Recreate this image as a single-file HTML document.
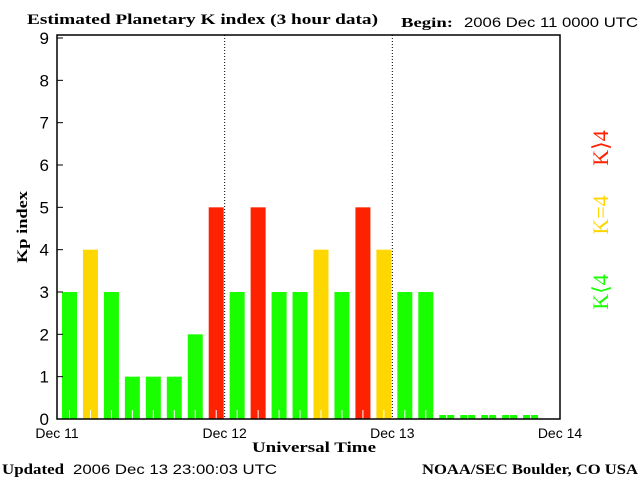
<!DOCTYPE html>
<html><head><meta charset="utf-8"><style>
body{margin:0;background:#fff}
svg text{font-family:"Liberation Serif",serif}
.s{font-family:"Liberation Sans",sans-serif}
</style></head><body>
<svg width="640" height="480" viewBox="0 0 640 480">
<text x="27" y="24" font-size="15" font-weight="bold" textLength="351" lengthAdjust="spacingAndGlyphs">Estimated Planetary K index (3 hour data)</text>
<text x="401" y="27" font-size="14" font-weight="bold" textLength="52" lengthAdjust="spacingAndGlyphs">Begin:</text>
<text x="464" y="27" font-size="14" class="s" textLength="174" lengthAdjust="spacingAndGlyphs">2006 Dec 11 0000 UTC</text>
<g id="plot"></g>
<text transform="translate(27,227) rotate(-90)" text-anchor="middle" font-size="15" font-weight="bold" textLength="72" lengthAdjust="spacingAndGlyphs">Kp index</text>
<text x="252" y="452" font-size="15" font-weight="bold" textLength="124" lengthAdjust="spacingAndGlyphs">Universal Time</text>
<text x="2" y="474" font-size="15" font-weight="bold" textLength="62" lengthAdjust="spacingAndGlyphs">Updated</text>
<text x="73" y="474" font-size="14" class="s" textLength="204" lengthAdjust="spacingAndGlyphs">2006 Dec 13 23:00:03 UTC</text>
<text x="422" y="474" font-size="15" font-weight="bold" textLength="216" lengthAdjust="spacingAndGlyphs">NOAA/SEC Boulder, CO USA</text>
<text transform="translate(608,148) rotate(-90)" text-anchor="middle" font-size="22" fill="#ff2200">K⟩4</text>
<text transform="translate(608,215) rotate(-90)" text-anchor="middle" font-size="22" fill="#ffd700">K=4</text>
<text transform="translate(608,292) rotate(-90)" text-anchor="middle" font-size="22" fill="#1aff00">K⟨4</text>
</svg>
<script>
const kpValues=[3,4,3,1,1,1,2,5, 3,5,3,3,4,3,5,4, 3,3,0,0,0,0,0];
const dayLabels=["Dec 11","Dec 12","Dec 13","Dec 14"];
const yTicks=[0,1,2,3,4,5,6,7,8,9];
const NS="http://www.w3.org/2000/svg";
const L=57,R=560,T=35,B=419;
const x=i=>L+(R-L)*i/24;
const y=v=>B-(B-38)*v/9;
const g=document.getElementById('plot');
function mk(t,a){const e=document.createElementNS(NS,t);for(const k in a)e.setAttribute(k,a[k]);g.appendChild(e);return e;}
kpValues.forEach((v,i)=>{
  const c=v>4?'#ff2200':(v==4?'#ffd700':'#1aff00');
  const top=v>0?y(v):B-4;
  const r=mk('rect',{x:x(i)+5,y:top,width:15,height:B-top,fill:c});
  
  
  const w=mk('line',{x1:x(i)+12.5,x2:x(i)+12.5,y1:B-9,y2:B,stroke:'#fff','stroke-width':1});
  
  
});
[1,2].forEach(d=>{
  const l=mk('line',{x1:x(d*8),x2:x(d*8),y1:T,y2:B,stroke:'#000','stroke-dasharray':'1,2'});
  
  
});
const f=mk('rect',{x:L,y:T,width:R-L,height:B-T,fill:'none',stroke:'#000','stroke-width':1.5});


yTicks.forEach(v=>{
  const tl=mk('line',{x1:L,x2:L+6,y1:y(v),y2:y(v),stroke:'#000'});
  
  
  const t=mk('text',{x:49,y:y(v)+6,'text-anchor':'end','font-size':17,class:'s'});
  t.textContent=v;
  
  
});
dayLabels.forEach((d,i)=>{
  const t=mk('text',{x:x(i*8),y:438,'text-anchor':'middle','font-size':14,class:'s'});
  t.textContent=d;
  
  
});
</script>
</body></html>
